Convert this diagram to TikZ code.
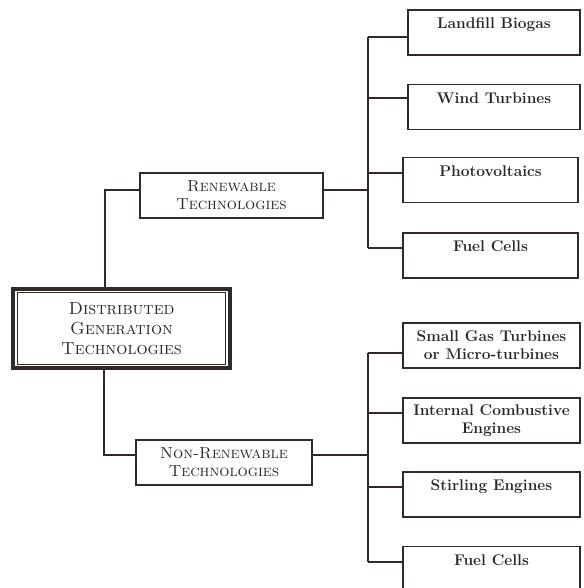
\documentclass[tikz,border=0pt]{standalone}
\usepackage{tikz}
\usetikzlibrary{positioning}
\definecolor{ctrait}{RGB}{50,42,38}
\definecolor{ctexte}{RGB}{40,40,40}

\begin{document}
\begin{tikzpicture}[x=1pt,y=-1pt,
  boite/.style={draw=ctrait,line width=1.8pt,fill=white,text=ctexte,inner sep=0pt,align=center,
    font=\fontsize{15.5}{18}\selectfont\bfseries,minimum width=175pt,minimum height=45pt},
  cat/.style={draw=ctrait,line width=1.8pt,fill=white,text=ctexte,inner sep=0pt,align=center,
    font=\fontsize{16}{18}\selectfont\scshape,minimum height=45pt},
  lien/.style={draw=ctrait,line width=1.4pt}]
\useasboundingbox (0,0) rectangle (583,588);
\node[cat,line width=4.5pt,minimum width=217pt,minimum height=79pt,font=\fontsize{17.5}{20}\selectfont\scshape]
  (dg) at (121.5,328.5) {Distributed\\Generation\\Technologies};
\draw[ctrait,line width=0.9pt] ([shift={(7,6)}]dg.north west) rectangle ([shift={(-7,-6)}]dg.south east);
\node[cat,minimum width=183pt] (ren) at (231.5,195.5) {Renewable\\Technologies};
\node[cat,minimum width=176pt] (nren) at (224,462.5) {Non-Renewable\\Technologies};
\node[boite,minimum width=172pt] (lb) at (494,32.5) {Landfill Biogas\\\mbox{}};
\node[boite,minimum width=172pt] (wt) at (494,107) {Wind Turbines\\\mbox{}};
\node[boite] (pv) at (490.5,180) {Photovoltaics\\\mbox{}};
\node[boite] (fca) at (490.5,255.5) {Fuel Cells\\\mbox{}};
\node[boite,minimum width=177pt] (sgt) at (491.5,345.5) {Small Gas Turbines\\or Micro-turbines};
\node[boite,minimum width=177pt] (ice) at (491.5,420.5) {Internal Combustive\\Engines};
\node[boite,minimum width=177pt] (se) at (491.5,494.5) {Stirling Engines\\\mbox{}};
\node[boite,minimum width=177pt] (fcb) at (491.5,569) {Fuel Cells\\\mbox{}};
\coordinate (r1) at (368,37); \coordinate (r2) at (368,98);
\coordinate (r3) at (368,173); \coordinate (r4) at (368,248);
\coordinate (n1) at (368,353); \coordinate (n2) at (368,413);
\coordinate (n3) at (368,487); \coordinate (n4) at (368,562);
\coordinate (rj) at (368,190); \coordinate (nj) at (368,455);
\coordinate (dh) at (105,190); \coordinate (db) at (104,455);
\draw[lien] (r1) -- (r4);
\draw[lien] (n1) -- (n4);
\foreach \a/\b in {r1/lb,r2/wt,r3/pv,r4/fca,n1/sgt,n2/ice,n3/se,n4/fcb}
  \draw[lien] (\a) -- (\a -| \b.west);
\draw[lien] (rj -| ren.east) -- (rj);
\draw[lien] (nj -| nren.east) -- (nj);
\draw[lien] (dh |- dg.north) -- (dh) -- (dh -| ren.west);
\draw[lien] (db |- dg.south) -- (db) -- (db -| nren.west);
\end{tikzpicture}
\end{document}
